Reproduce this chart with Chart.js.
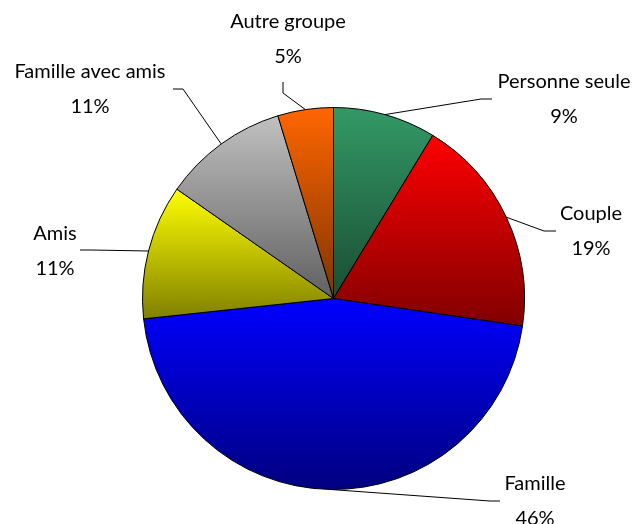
<!DOCTYPE html>
<html>
<head>
<meta charset="utf-8">
<script src="https://cdn.jsdelivr.net/npm/chart.js@4.4.1/dist/chart.umd.min.js"></script>
<style>
  html, body { margin: 0; padding: 0; background: #fff; }
  #wrap { width: 636px; height: 524px; }
</style>
</head>
<body>
<div id="wrap"><canvas id="pie" width="636" height="524"></canvas></div>
<script>
// categories, clockwise from 12 o'clock
const categories = ["Personne seule", "Couple", "Famille", "Amis", "Famille avec amis", "Autre groupe"];
const shares = [8.7, 18.6, 46.0, 11.4, 10.6, 4.7];
const percentLabels = ["9%", "19%", "46%", "11%", "11%", "5%"];

// light (top) and dark (bottom) colour of each slice
const lightColors = ["#339966", "#ff0000", "#0000ff", "#ffff00", "#c0c0c0", "#ff6600"];
const darkColors = ["#1a4d33", "#800000", "#000080", "#808000", "#606060", "#803300"];

// label layout: text centre, elbow of the leader line, leader end
const labelLayout = [
  { tx: 564, ty: 82, ex: 481, ey: 99, lx: 492, ly: 99 },
  { tx: 591, ty: 214, ex: 544, ey: 231, lx: 556, ly: 231 },
  { tx: 535, ty: 484, ex: 490, ey: 501, lx: 500, ly: 501 },
  { tx: 55, ty: 234, ex: 92, ey: 250, lx: 80, ly: 250 },
  { tx: 90, ty: 72, ex: 183, ey: 89, lx: 173, ly: 89 },
  { tx: 288, ty: 22, ex: 283, ey: 93, lx: 283, ly: 82 }
];

function sliceGradient(context) {
  const chart = context.chart;
  const area = chart.chartArea;
  const i = context.dataIndex;
  if (!area) return lightColors[i];
  const cx = (area.left + area.right) / 2;
  const cy = (area.top + area.bottom) / 2;
  const r = (Math.min(area.width, area.height) - 1) / 2;
  const total = shares.reduce((a, b) => a + b, 0);
  let before = 0;
  for (let k = 0; k < i; k++) before += shares[k];
  const a0 = before / total * Math.PI * 2 - Math.PI / 2;
  const a1 = (before + shares[i]) / total * Math.PI * 2 - Math.PI / 2;
  const ys = [cy, cy + r * Math.sin(a0), cy + r * Math.sin(a1)];
  // include top / bottom extremes of the circle when the arc passes them
  [-Math.PI / 2, Math.PI / 2, Math.PI * 1.5].forEach(a => {
    if (a > a0 && a < a1) ys.push(cy + r * Math.sin(a));
  });
  const top = Math.min(...ys);
  const bottom = Math.max(...ys);
  const g = chart.ctx.createLinearGradient(0, top, 0, bottom);
  g.addColorStop(0, lightColors[i]);
  g.addColorStop(1, darkColors[i]);
  return g;
}

const pieLabels = {
  id: "pieLabels",
  afterDatasetsDraw(chart) {
    const ctx = chart.ctx;
    const arcs = chart.getDatasetMeta(0).data;
    ctx.save();
    ctx.strokeStyle = "#000";
    ctx.lineWidth = 1;
    ctx.fillStyle = "#000";
    ctx.font = "20px Lato";
    ctx.textAlign = "center";
    ctx.textBaseline = "middle";
    arcs.forEach((arc, i) => {
      const mid = (arc.startAngle + arc.endAngle) / 2;
      const sx = arc.x + arc.outerRadius * Math.cos(mid);
      const sy = arc.y + arc.outerRadius * Math.sin(mid);
      const p = labelLayout[i];
      ctx.beginPath();
      ctx.moveTo(sx, sy);
      ctx.lineTo(p.ex, p.ey);
      ctx.lineTo(p.lx, p.ly);
      ctx.stroke();
      ctx.fillText(categories[i], p.tx, p.ty);
      ctx.fillText(percentLabels[i], p.tx, p.ty + 35);
    });
    ctx.restore();
  }
};

new Chart(document.getElementById("pie"), {
  type: "pie",
  data: {
    labels: categories,
    datasets: [{
      data: shares,
      backgroundColor: sliceGradient,
      borderColor: "#000",
      borderWidth: 1
    }]
  },
  options: {
    responsive: false,
    animation: false,
    layout: { padding: { left: 142, right: 111, top: 107, bottom: 34 } },
    plugins: {
      legend: { display: false },
      tooltip: { enabled: false }
    }
  },
  plugins: [pieLabels]
});
</script>
</body>
</html>
